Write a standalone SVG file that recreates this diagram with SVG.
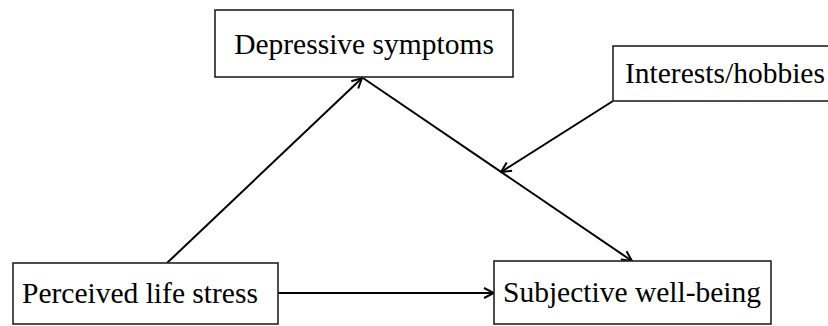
<svg xmlns="http://www.w3.org/2000/svg" width="828" height="326" viewBox="0 0 828 326">
<defs>
<marker id="ah" viewBox="0 0 12 12" refX="11" refY="6" markerWidth="12" markerHeight="12" markerUnits="userSpaceOnUse" orient="auto">
<path d="M1,1 L11,6 L1,11" fill="none" stroke="#000" stroke-width="2"/>
</marker>
<style>
.box{fill:#fff;stroke:#222;stroke-width:1.6}
.t{font-family:"Liberation Serif","Times New Roman",serif;font-size:29.5px;fill:#000}
.c{stroke:#000;stroke-width:2;fill:none;marker-end:url(#ah)}
</style>
</defs>
<rect width="828" height="326" fill="#fff"/>
<g id="connectors">
<line class="c" x1="167" y1="263" x2="362" y2="78"/>
<line class="c" x1="363" y1="78" x2="632" y2="261"/>
<line class="c" x1="613" y1="101" x2="501" y2="172"/>
<line class="c" x1="278" y1="293" x2="494" y2="293"/>
</g>
<g id="depressive">
<rect class="box" x="215" y="10" width="298" height="67"/>
<text class="t" x="364" y="54" text-anchor="middle">Depressive symptoms</text>
</g>
<g id="interests">
<rect class="box" x="613" y="46" width="220" height="55"/>
<text class="t" x="625" y="83">Interests/hobbies</text>
</g>
<g id="perceived">
<rect class="box" x="13" y="263" width="265" height="61"/>
<text class="t" x="22" y="303">Perceived life stress</text>
</g>
<g id="subjective">
<rect class="box" x="494" y="261" width="277" height="63"/>
<text class="t" x="503" y="302">Subjective well-being</text>
</g>
</svg>
